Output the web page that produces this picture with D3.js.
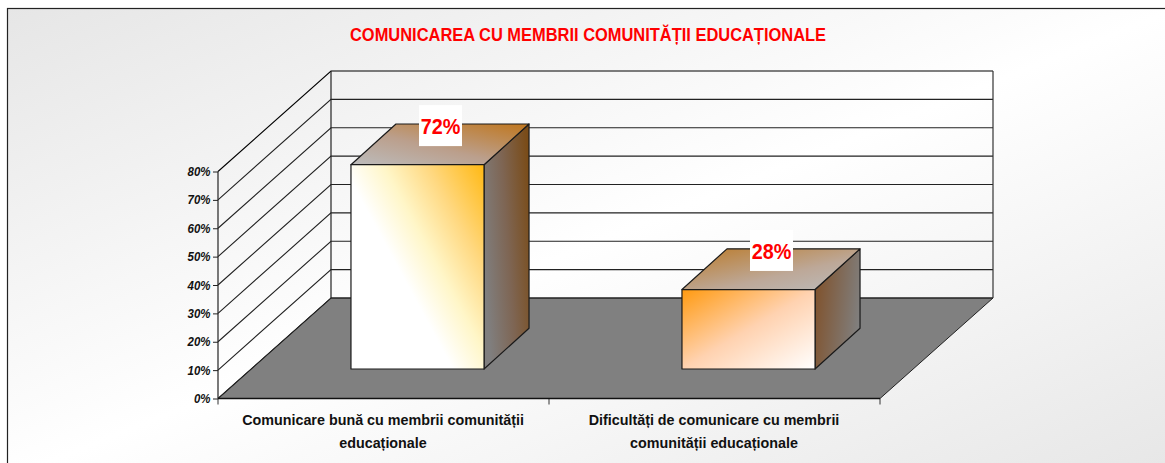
<!DOCTYPE html>
<html><head><meta charset="utf-8">
<script src="https://cdn.jsdelivr.net/npm/d3@7"></script>
<style>html,body{margin:0;padding:0;background:#fff}svg{display:block}text{font-family:"Liberation Sans",Arial,sans-serif}</style>
</head><body><svg id="c" width="1165" height="463"></svg>
<script>
const title = "COMUNICAREA CU MEMBRII COMUNITĂȚII EDUCAȚIONALE";
const categories = ["Comunicare bună cu membrii comunității educaționale", "Dificultăți de comunicare cu membrii comunității educaționale"];
const categoryLines = [["Comunicare bună cu membrii comunității", "educaționale"], ["Dificultăți de comunicare cu membrii", "comunității educaționale"]];
const values = [72, 28];
const valueLabels = ["72%", "28%"];
const yTicks = [0, 10, 20, 30, 40, 50, 60, 70, 80];

const svg = d3.select("#c");
const defs = svg.append("defs");
function grad(id, x1, y1, x2, y2, stops) {
  const g = defs.append("linearGradient").attr("id", id)
    .attr("x1", x1).attr("y1", y1).attr("x2", x2).attr("y2", y2);
  stops.forEach(s => g.append("stop").attr("offset", s[0]).attr("stop-color", s[1]));
}
grad("bg", 0, 0, 1, 1, [[0, "#e6e6e6"], [0.5, "#ffffff"], [1, "#e6e6e6"]]);
grad("f0", 1, 0, 0.1, 0.75, [[0, "#ffb812"], [0.28, "#ffd880"], [0.5, "#fff6c8"], [0.7, "#ffffff"], [1, "#ffffff"]]);
grad("s0", 0, 0.6, 1, 0.2, [[0, "#807f7f"], [0.5, "#7e6553"], [1, "#7a4c18"]]);
grad("t0", 0, 1, 1, 0, [[0, "#bcbcbc"], [0.45, "#bb9f8c"], [1, "#c0761c"]]);
grad("f1", 0, 0, 1, 1, [[0, "#ff9a10"], [0.5, "#ffd2b0"], [1, "#ffffff"]]);
grad("s1", 0, 0.3, 1, 0.6, [[0, "#80522c"], [1, "#808080"]]);
grad("t1", 0, 0, 1, 1, [[0, "#bb7a28"], [0.6, "#bda898"], [1, "#bcbcbc"]]);

// condensed text: the reference glyphs are narrower than the installed face
function label(sel, tx, ty, sx, str, size, fill, anchor, extra) {
  const t = sel.append("text").attr("transform", `translate(${tx},${ty}) scale(${sx},1)`)
    .attr("text-anchor", anchor).attr("fill", fill).attr("font-size", size)
    .attr("font-weight", "bold").text(str);
  if (extra) t.attr("font-style", extra);
  return t;
}

// frame
svg.append("rect").attr("x", 7.5).attr("y", 8.5).attr("width", 1170).attr("height", 470)
  .attr("fill", "url(#bg)").attr("stroke", "#222").attr("stroke-width", 1.2);

// scales
const x = d3.scaleBand().domain(categories).range([218, 880]).paddingInner(0).paddingOuter(0);
const y = d3.scaleLinear().domain([0, 80]).range([398.5, 171.5]);
const dx = 113, dy = -100.5;          // floor depth
const bx = 34, by = -29.5;            // bar offset from front of floor
const bdx = 45, bdy = -40.7;          // bar depth
const barW = x.bandwidth() * 0.402;

const poly = pts => pts.map(p => p.join(",")).join(" ");
const y0 = y(0);

// floor
svg.append("polygon")
  .attr("points", poly([[x.range()[0], y0], [x.range()[1], y0], [x.range()[1] + dx, y0 + dy], [x.range()[0] + dx, y0 + dy]]))
  .attr("fill", "#808080").attr("stroke", "#222").attr("stroke-width", 1);

// gridlines: side wall + back wall
yTicks.forEach(t => {
  const yy = y(t), gc = t === 80 ? "#000" : "#222";
  svg.append("polyline").attr("fill", "none").attr("stroke", gc).attr("stroke-width", 1.1)
    .attr("points", poly([[x.range()[0], yy], [x.range()[0] + dx, yy + dy], [x.range()[1] + dx, yy + dy]]));
});
// verticals
svg.append("line").attr("x1", x.range()[0]).attr("x2", x.range()[0]).attr("y1", y(0)).attr("y2", y(80)).attr("stroke", "#222").attr("stroke-width", 1.2);
svg.append("line").attr("x1", x.range()[0] + dx).attr("x2", x.range()[0] + dx).attr("y1", y(0) + dy).attr("y2", y(80) + dy).attr("stroke", "#222").attr("stroke-width", 1.2);
svg.append("line").attr("x1", x.range()[1] + dx).attr("x2", x.range()[1] + dx).attr("y1", y(0) + dy).attr("y2", y(80) + dy).attr("stroke", "#333").attr("stroke-width", 1.2);

// y axis
const axisY = svg.append("g").attr("transform", `translate(${x.range()[0]},0)`)
  .call(d3.axisLeft(y).tickValues(yTicks).tickFormat(() => "").tickSize(5));
axisY.select(".domain").remove();
axisY.selectAll("line").attr("stroke", "#222").attr("stroke-width", 1);
yTicks.forEach(t => label(svg, 210.5, y(t) + 4.5, 0.85, t + "%", 13.5, "#111", "end", "italic"));

// x axis
const axisEdges = [x.range()[0], x(categories[1]), x.range()[1]];
svg.append("g").selectAll("line").data(axisEdges).join("line")
  .attr("x1", d => d).attr("x2", d => d).attr("y1", y0).attr("y2", y0 + 6).attr("stroke", "#333");
svg.append("line").attr("x1", x.range()[0]).attr("x2", x.range()[1]).attr("y1", y0).attr("y2", y0).attr("stroke", "#111").attr("stroke-width", 1.3);

// bars
categories.forEach((c, i) => {
  const left = x(c) + (x.bandwidth() - barW) / 2 + bx;
  const right = left + barW;
  const bot = y0 + by;
  const top = bot - (y(0) - y(values[i]));
  const g = svg.append("g").attr("stroke", "#1a1a1a").attr("stroke-width", 1.2).attr("stroke-linejoin", "round");
  g.append("polygon").attr("fill", `url(#s${i})`)
    .attr("points", poly([[right, top], [right + bdx, top + bdy], [right + bdx, bot + bdy], [right, bot]]));
  g.append("polygon").attr("fill", `url(#t${i})`)
    .attr("points", poly([[left, top], [left + bdx, top + bdy], [right + bdx, top + bdy], [right, top]]));
  g.append("rect").attr("fill", `url(#f${i})`)
    .attr("x", left).attr("y", top).attr("width", barW).attr("height", bot - top);
  // data label
  const cx = left + barW / 2 + 23;
  const boxBottom = top - 18.6;
  svg.append("rect").attr("x", cx - 21.5).attr("y", boxBottom - 41).attr("width", 43).attr("height", 41).attr("fill", "#fff");
  label(svg, cx, boxBottom - 12, 0.9, valueLabels[i], 22, "#ff0000", "middle");
});

// category labels
categories.forEach((c, i) => {
  const cx = x(c) + x.bandwidth() / 2 - 0.5;
  categoryLines[i].forEach((ln, j) => {
    label(svg, cx, 425 + j * 23, 0.956, ln, 15, "#111", "middle");
  });
});

// title
label(svg, 588, 40.5, 0.94, title, 17.5, "#ff0000", "middle");
</script></body></html>
